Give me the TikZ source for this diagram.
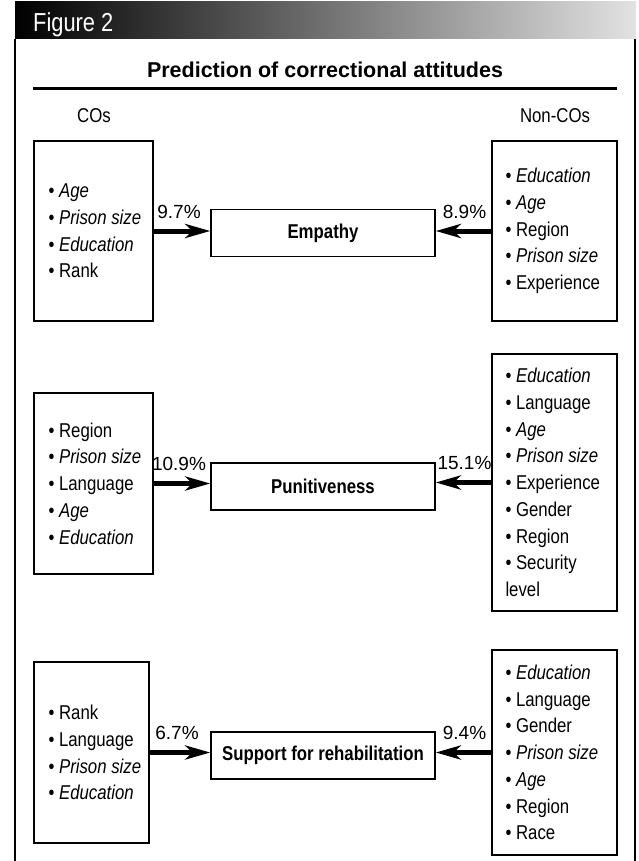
\documentclass[tikz,border=0pt]{standalone}
\usepackage{fontspec}
\setmainfont{Liberation Sans}
\newfontfamily\nar[FakeStretch=0.84]{Liberation Sans}
\usetikzlibrary{arrows.meta}
\definecolor{hdrgray}{RGB}{226,226,226}
\newcommand{\itm}[1]{\textbullet\ #1}
\begin{document}
\begin{tikzpicture}[x=1pt,y=-1pt,
  frame/.style={line width=1.4pt},
  listbox/.style={draw, line width=1.4pt, inner sep=0pt},
  listtext/.style={anchor=west, align=left, inner sep=0pt,
    font=\nar\fontsize{20}{26.7}\selectfont},
  attbox/.style={draw, line width=1.4pt, minimum width=224pt, minimum height=47pt,
    inner sep=0pt, font=\nar\fontsize{20}{24}\selectfont\bfseries},
  arr/.style={line width=5pt, -{Stealth[length=25pt,width=14pt,inset=7pt]}},
  pct/.style={midway, above=8pt, inner sep=2pt, font=\fontsize{19}{22}\selectfont},
  pctl/.style={pct, xshift=-3pt},
  pctr/.style={pct, xshift=1pt},
  grp/.style={font=\nar\fontsize{20}{24}\selectfont, inner sep=0pt, anchor=base}]
\useasboundingbox (0,0) rectangle (639,861);
% header band
\shade[left color=black, right color=hdrgray] (15,2) rectangle (636,39);
\node[anchor=base west, inner sep=0pt, text=white, font=\nar\fontsize{26}{30}\selectfont] (fig) at (33,32) {Figure 2};
% frame
\draw[frame] (15,39) -- (15,861);
\draw[frame] (635,39) -- (635,861);
% title and rule
\node[anchor=base, inner sep=0pt, font=\fontsize{21.5}{25}\selectfont\bfseries] (title) at (325,78) {Prediction of correctional attitudes};
\coordinate (ruleL) at (33,89);
\coordinate (ruleR) at (617,89);
\draw[line width=3pt] (ruleL) -- (ruleR);
\node[grp] (cos) at (94,123) {COs};
\node[grp] (noncos) at (555,123) {Non-COs};
% row 1
\node[listbox, minimum width=119pt, minimum height=180pt] (L1) at (93.5,231) {};
\node[listtext] (L1t) at ([xshift=15pt]L1.west) {\itm{\textit{Age}}\\ \itm{\textit{Prison size}}\\ \itm{\textit{Education}}\\ \itm{Rank}};
\node[listbox, minimum width=125pt, minimum height=180pt] (R1) at (554.5,231) {};
\node[listtext] (R1t) at ([xshift=14pt]R1.west) {\itm{\textit{Education}}\\ \itm{\textit{Age}}\\ \itm{Region}\\ \itm{\textit{Prison size}}\\ \itm{Experience}};
\node[attbox] (E1) at (323,233) {Empathy};
\draw[arr] (L1.east) -- (L1.east -| E1.west) node[pctl] {9.7\%};
\draw[arr] (R1.west) -- (R1.west -| E1.east) node[pctr] {8.9\%};
% row 2
\node[listbox, minimum width=119pt, minimum height=181pt] (L2) at (93.5,483.5) {};
\node[listtext] (L2t) at ([xshift=15pt]L2.west) {\itm{Region}\\ \itm{\textit{Prison size}}\\ \itm{Language}\\ \itm{\textit{Age}}\\ \itm{\textit{Education}}};
\node[listbox, minimum width=125pt, minimum height=257pt] (R2) at (554.5,482.5) {};
\node[listtext] (R2t) at ([xshift=14pt]R2.west) {\itm{\textit{Education}}\\ \itm{Language}\\ \itm{\textit{Age}}\\ \itm{\textit{Prison size}}\\ \itm{Experience}\\ \itm{Gender}\\ \itm{Region}\\ \itm{Security}\\ level};
\node[attbox] (E2) at (323,486.5) {Punitiveness};
\draw[arr] (L2.east) -- (L2.east -| E2.west) node[pctl] {10.9\%};
\draw[arr] (R2.west) -- (R2.west -| E2.east) node[pctr] {15.1\%};
% row 3
\node[listbox, minimum width=115pt, minimum height=181pt] (L3) at (91.5,752.5) {};
\node[listtext] (L3t) at ([xshift=15pt]L3.west) {\itm{Rank}\\ \itm{Language}\\ \itm{\textit{Prison size}}\\ \itm{\textit{Education}}};
\node[listbox, minimum width=125pt, minimum height=205pt] (R3) at (554.5,752.5) {};
\node[listtext] (R3t) at ([xshift=14pt]R3.west) {\itm{\textit{Education}}\\ \itm{Language}\\ \itm{Gender}\\ \itm{\textit{Prison size}}\\ \itm{\textit{Age}}\\ \itm{Region}\\ \itm{Race}};
\node[attbox] (E3) at (323,755.5) {Support for rehabilitation};
\draw[arr] (L3.east) -- (L3.east -| E3.west) node[pctl] {6.7\%};
\draw[arr] (R3.west) -- (R3.west -| E3.east) node[pctr] {9.4\%};
\end{tikzpicture}
\end{document}
